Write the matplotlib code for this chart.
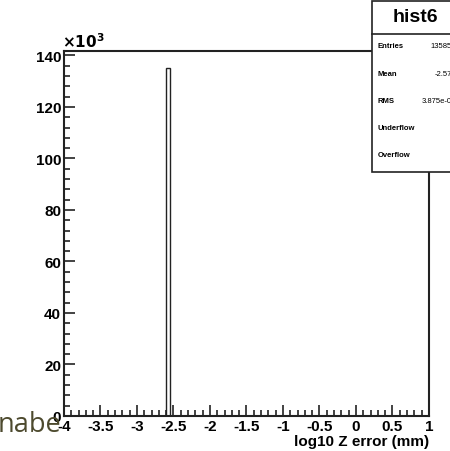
import numpy as np
import matplotlib.pyplot as plt
from matplotlib.patches import Rectangle
from matplotlib.lines import Line2D

plt.rcParams['font.family'] = ['Liberation Sans', 'DejaVu Sans']

# histogram data (log10 Z error, mm)
x_lo = -4.0
x_hi = 1.0
n_bins = 100
peak_bin = 28          # bin from -2.60 to -2.55
peak_count = 135000

x_ticks = [-4, -3.5, -3, -2.5, -2, -1.5, -1, -0.5, 0, 0.5, 1]
x_tick_labels = ['-4', '-3.5', '-3', '-2.5', '-2', '-1.5', '-1', '-0.5', '0', '0.5', '1']
y_ticks = [0, 20000, 40000, 60000, 80000, 100000, 120000, 140000]
y_tick_labels = ['0', '20', '40', '60', '80', '100', '120', '140']

stat_names = ['Entries', 'Mean', 'RMS', 'Underflow', 'Overflow']
stat_values = ['135854', '-2.575', '3.875e-03', '0', '0']

edges = np.linspace(x_lo, x_hi, n_bins + 1)
counts = np.zeros(n_bins)
counts[peak_bin] = peak_count

fig = plt.figure(figsize=(4.5, 4.52), dpi=100)
ax = fig.add_axes([64/450, 1-417/452, (429-64)/450, (417-52)/452])

ax.stairs(counts, edges, color='#222222', lw=1.0)

ax.set_xlim(x_lo, x_hi)
ax.set_ylim(0, 141700)
ax.set_xticks(x_ticks)
ax.set_xticklabels(x_tick_labels, fontsize=11, fontweight='bold')
ax.set_xticks(np.arange(-4, 1.01, 0.1), minor=True)
ax.set_yticks(y_ticks)
ax.set_yticklabels(y_tick_labels, fontsize=11, fontweight='bold')
ax.set_yticks(np.arange(0, 141000, 4000), minor=True)

ax.tick_params(which='both', direction='in', top=False, right=False, width=1.2, color='#222222')
ax.tick_params(which='major', length=8, pad=2)
ax.tick_params(which='minor', length=4.5)
for s in ax.spines.values():
    s.set_linewidth(1.5)
    s.set_color('#222222')

ax.set_xlabel('log10 Z error (mm)', fontsize=11, fontweight='bold', loc='right', labelpad=1)
ax.text(-0.005, 1.003, r'$\mathbf{\times10^{3}}$', transform=ax.transAxes, fontsize=11,
        ha='left', va='bottom')

# stats box
bx0 = 372/450
by_top = 1 - 2/452
by_bot = 1 - 173/452
fig.add_artist(Rectangle((bx0, by_bot), 1.2 - bx0, by_top - by_bot, transform=fig.transFigure,
                         facecolor='white', edgecolor='#222222', lw=1.2, zorder=5))
fig.add_artist(Line2D([bx0, 1.2], [1 - 35/452, 1 - 35/452], transform=fig.transFigure,
                      color='#222222', lw=1.2, zorder=6))
fig.text(415/450, 1 - 18/452, 'hist6', fontsize=14, fontweight='bold', ha='center', va='center', zorder=7)
for i, (n, v) in enumerate(zip(stat_names, stat_values)):
    yy = 1 - (47 + i*27.2)/452
    fig.text(378/450, yy, n, fontsize=5.5, fontweight='bold', ha='left', va='center', zorder=7)
    fig.text(456/450, yy, v, fontsize=5.5, ha='right', va='center', zorder=7)

# stray overlay text
fig.text(-2/450, 1 - 432/452, 'nabe', fontsize=19.5, color='#4d4a2e', family='Open Sans',
         ha='left', va='baseline', zorder=10)

fig.savefig('out.png', dpi=100)
